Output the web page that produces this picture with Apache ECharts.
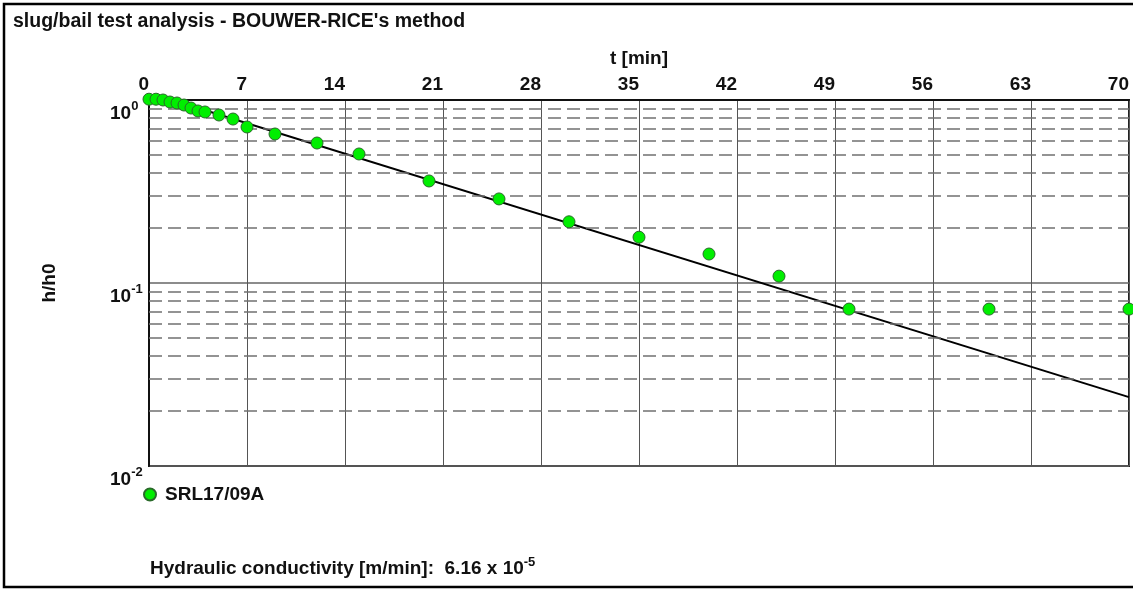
<!DOCTYPE html>
<html>
<head>
<meta charset="utf-8">
<script src="https://cdn.jsdelivr.net/npm/echarts@6/dist/echarts.min.js"></script>
<style>
html,body{margin:0;padding:0;background:#fff;}
#chart{width:1133px;height:590px;}
</style>
</head>
<body>
<div id="chart"></div>
<script>
// ---- data ----
const titleText = "slug/bail test analysis - BOUWER-RICE's method";
const xAxisName = 't [min]';
const yAxisName = 'h/h0';
const seriesName = 'SRL17/09A';
const tValues = [0, 0.5, 1, 1.5, 2, 2.5, 3, 3.5, 4, 5, 6, 7, 9, 12, 15, 20, 25, 30, 35, 40, 45, 50, 60, 70];
const hRatio  = [1.01, 1.01, 1.0, 0.975, 0.963, 0.939, 0.904, 0.871, 0.86, 0.828, 0.787, 0.712, 0.652, 0.582, 0.507, 0.361, 0.288, 0.216, 0.178, 0.144, 0.109, 0.072, 0.072, 0.072];
const fitT = [1.65, 70];
const fitH = [1.0, 0.0238];
const xMin = 0, xMax = 70, xInterval = 7;
const yMin = 0.01, yMax = 1;
const minorGridValues = [0.02, 0.03, 0.04, 0.05, 0.06, 0.07, 0.08, 0.09, 0.2, 0.3, 0.4, 0.5, 0.6, 0.7, 0.8, 0.9];
const conductivityLabel = 'Hydraulic conductivity [m/min]:  ';
const conductivityMantissa = '6.16';
const conductivityExp = '-5';

// ---- chart ----
const FONT = "'Liberation Sans', Arial, sans-serif";
const FS = 19;
const chart = echarts.init(document.getElementById('chart'), null, {renderer: 'canvas'});

const scatterData = tValues.map((t, i) => [t, hRatio[i]]);
const fitData = fitT.map((t, i) => [t, fitH[i]]);

const option = {
  animation: false,
  backgroundColor: '#fff',
  title: {
    text: titleText, left: 13, top: 12, padding: 0,
    textStyle: {fontFamily: FONT, fontSize: 19.5, fontWeight: 'bold', color: '#111'}
  },
  legend: {
    data: [{name: seriesName, icon: 'circle'}],
    left: 143, top: 485, padding: 0,
    itemWidth: 12, itemHeight: 12,
    textStyle: {fontFamily: FONT, fontSize: FS, fontWeight: 'bold', color: '#111', padding: [0, 0, 0, 4]}
  },
  grid: {
    left: 149, top: 100, right: 4, bottom: 124,
    show: true, borderColor: '#222', borderWidth: 2, backgroundColor: 'transparent'
  },
  xAxis: {
    type: 'value', position: 'top', min: xMin, max: xMax, interval: xInterval,
    name: xAxisName, nameLocation: 'middle', nameGap: 32,
    nameTextStyle: {fontFamily: FONT, fontSize: FS, fontWeight: 'bold', color: '#111'},
    axisLine: {show: true, lineStyle: {color: '#111', width: 2}},
    axisTick: {show: false},
    axisLabel: {align: 'right', margin: 6, fontFamily: FONT, fontSize: FS, fontWeight: 'bold', color: '#111'},
    splitLine: {show: true, lineStyle: {color: '#555', width: 1, type: 'solid'}}
  },
  yAxis: {
    type: 'log', logBase: 10, min: yMin, max: yMax,
    name: yAxisName, nameLocation: 'middle', nameGap: 90, nameRotate: 90,
    nameTextStyle: {fontFamily: FONT, fontSize: FS, fontWeight: 'bold', color: '#111'},
    axisLine: {show: true, lineStyle: {color: '#111', width: 2}},
    axisTick: {show: false},
    axisLabel: {
      align: 'left', verticalAlign: 'top', margin: 39,
      formatter: function (v) {
        const e = Math.round(Math.log10(v));
        return '{b|10}{s|' + e + '}';
      },
      rich: {
        b: {fontFamily: FONT, fontSize: FS, fontWeight: 'bold', color: '#111', lineHeight: 27},
        s: {fontFamily: FONT, fontSize: 13, fontWeight: 'bold', color: '#111', verticalAlign: 'top', lineHeight: 14}
      }
    },
    splitLine: {show: true, lineStyle: {color: '#666', width: 1.5, type: 'solid'}}
  },
  graphic: [
    {
      type: 'rect', silent: true, z: 100,
      shape: {x: 4, y: 4, width: 1150, height: 583},
      style: {fill: 'none', stroke: '#000', lineWidth: 2.5}
    },
    {
      type: 'text', left: 150, top: 556, silent: true,
      style: {
        text: '{a|' + conductivityLabel + conductivityMantissa + ' x 10}{s|' + conductivityExp + '}',
        rich: {
          a: {fontFamily: FONT, fontSize: FS, fontWeight: 'bold', fill: '#111', lineHeight: 26},
          s: {fontFamily: FONT, fontSize: 13, fontWeight: 'bold', fill: '#111', verticalAlign: 'top', lineHeight: 14}
        }
      }
    }
  ],
  series: [
    {
      name: 'grid-minor', type: 'line', data: [], silent: true, z: 1,
      markLine: {
        silent: true, symbol: ['none', 'none'], label: {show: false},
        lineStyle: {color: '#707070', width: 1.5, type: [13, 6]},
        data: minorGridValues.map(v => ({yAxis: v}))
      }
    },
    {
      name: 'fit', type: 'line', data: fitData, z: 3,
      showSymbol: false, symbol: 'none', clip: true,
      lineStyle: {color: '#000', width: 2}
    },
    {
      name: seriesName, type: 'scatter', data: scatterData, z: 5, clip: false,
      symbol: 'circle', symbolSize: 12,
      itemStyle: {color: '#00ee00', borderColor: '#2a6a2a', borderWidth: 1, opacity: 1}
    }
  ]
};
chart.setOption(option);
</script>
</body>
</html>
